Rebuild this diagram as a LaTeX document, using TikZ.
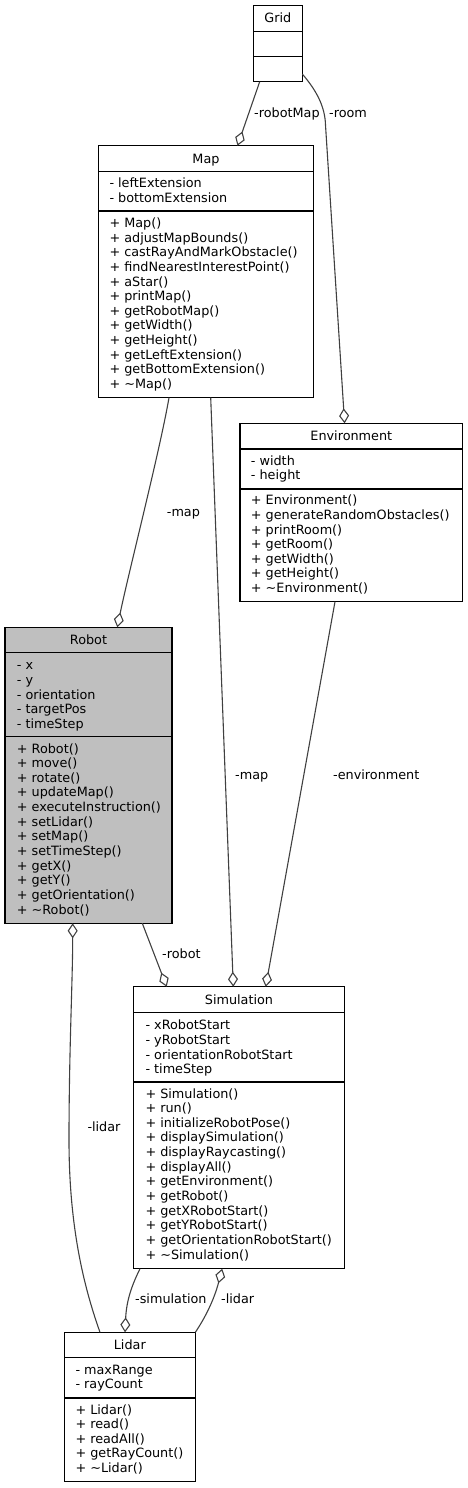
\documentclass[tikz,border=0pt]{standalone}
\usepackage{fontspec}
\setmainfont{DejaVu Sans}
\usetikzlibrary{arrows.meta}
\definecolor{edgecol}{HTML}{404040}
\definecolor{robfill}{HTML}{BFBFBF}
\newcommand\dvf{\fontsize{12.8}{14.65}\selectfont}
\newcommand\fl{\rule{0pt}{10pt}}
\newcommand\tld{\textasciitilde}
\tikzset{
  cls/.style={draw=black, line width=1.2pt, inner sep=0pt, outer sep=0pt, anchor=north west},
  sepline/.style={draw=black, line width=1.2pt},
  txt/.style={inner sep=0pt, anchor=north west, align=left, font=\dvf},
  ttl/.style={inner sep=0pt, font=\dvf, text height=10pt, text depth=1pt},
  lbl/.style={inner sep=0pt, anchor=west, font=\dvf, text height=10pt, text depth=1pt},
  agg/.style={draw=edgecol, line width=1.1pt, -{Diamond[open, length=15pt, width=10pt, line width=1.1pt]}}
}
\begin{document}
\begin{tikzpicture}[x=1pt, y=-1pt]
\useasboundingbox (0,0) rectangle (468,1488);

% ---------- Grid ----------
\node[cls, minimum width=49pt, minimum height=76pt] (grid) at (253.3,5.7) {};
\draw[sepline] (grid.west |- 0,31.3) -- (grid.east |- 0,31.3);
\draw[sepline] (grid.west |- 0,56.7) -- (grid.east |- 0,56.7);
\node[ttl] (gridt) at (277.8,18.5) {Grid};

% ---------- Map ----------
\node[cls, minimum width=214.6pt, minimum height=252pt] (map) at (98.7,145.7) {};
\draw[sepline] (map.west |- 0,171.7) -- (map.east |- 0,171.7);
\draw[sepline] (map.west |- 0,211) -- (map.east |- 0,211);
\node[ttl] (mapt) at (206,158.7) {Map};
\node[txt] (mapa) at (109.3,177.2) {\fl- leftExtension\\- bottomExtension};
\node[txt] (mapm) at (109.3,217.2) {\fl+ Map()\\+ adjustMapBounds()\\+ castRayAndMarkObstacle()\\+ findNearestInterestPoint()\\+ aStar()\\+ printMap()\\+ getRobotMap()\\+ getWidth()\\+ getHeight()\\+ getLeftExtension()\\+ getBottomExtension()\\+ \tld Map()};

% ---------- Environment ----------
\node[cls, minimum width=222.7pt, minimum height=178.4pt] (env) at (240,423.3) {};
\draw[sepline] (env.west |- 0,449) -- (env.east |- 0,449);
\draw[sepline] (env.west |- 0,489) -- (env.east |- 0,489);
\node[ttl] (envt) at (351.3,436.2) {Environment};
\node[txt] (enva) at (250.7,454.8) {\fl- width\\- height};
\node[txt] (envm) at (250.7,494.5) {\fl+ Environment()\\+ generateRandomObstacles()\\+ printRoom()\\+ getRoom()\\+ getWidth()\\+ getHeight()\\+ \tld Environment()};

% ---------- Robot ----------
\node[cls, fill=robfill, minimum width=167pt, minimum height=296pt] (rob) at (5,627.3) {};
\draw[sepline] (rob.west |- 0,652.7) -- (rob.east |- 0,652.7);
\draw[sepline] (rob.west |- 0,736.7) -- (rob.east |- 0,736.7);
\node[ttl] (robt) at (88.5,640) {Robot};
\node[txt] (roba) at (16.7,659.5) {\fl- x\\- y\\- orientation\\- targetPos\\- timeStep};
\node[txt] (robm) at (16.7,742.8) {\fl+ Robot()\\+ move()\\+ rotate()\\+ updateMap()\\+ executeInstruction()\\+ setLidar()\\+ setMap()\\+ setTimeStep()\\+ getX()\\+ getY()\\+ getOrientation()\\+ \tld Robot()};

% ---------- Simulation ----------
\node[cls, minimum width=210.6pt, minimum height=282pt] (sim) at (133.7,986.7) {};
\draw[sepline] (sim.west |- 0,1012.7) -- (sim.east |- 0,1012.7);
\draw[sepline] (sim.west |- 0,1082) -- (sim.east |- 0,1082);
\node[ttl] (simt) at (239,999.7) {Simulation};
\node[txt] (sima) at (145.3,1019.5) {\fl- xRobotStart\\- yRobotStart\\- orientationRobotStart\\- timeStep};
\node[txt] (simm) at (145.3,1087.8) {\fl+ Simulation()\\+ run()\\+ initializeRobotPose()\\+ displaySimulation()\\+ displayRaycasting()\\+ displayAll()\\+ getEnvironment()\\+ getRobot()\\+ getXRobotStart()\\+ getYRobotStart()\\+ getOrientationRobotStart()\\+ \tld Simulation()};

% ---------- Lidar ----------
\node[cls, minimum width=131pt, minimum height=149.4pt] (lid) at (64.3,1332.3) {};
\draw[sepline] (lid.west |- 0,1357.7) -- (lid.east |- 0,1357.7);
\draw[sepline] (lid.west |- 0,1398) -- (lid.east |- 0,1398);
\node[ttl] (lidt) at (129.8,1345) {Lidar};
\node[txt] (lida) at (75.3,1363.8) {\fl- maxRange\\- rayCount};
\node[txt] (lidm) at (75.3,1403.8) {\fl+ Lidar()\\+ read()\\+ readAll()\\+ getRayCount()\\+ \tld Lidar()};

% ---------- connector end points ----------
\coordinate (gridB) at (259.7,81.7);
\coordinate (mapT) at (237.5,145.7);
\coordinate (gridR) at (302.3,74);
\coordinate (roomK) at (325.5,125);
\coordinate (envT) at (344.6,423.3);
\coordinate (mapB1) at (169,397.7);
\coordinate (robT) at (117.3,627.3);
\coordinate (mapB2) at (210.7,397.7);
\coordinate (simT2) at (233.3,986.7);
\coordinate (envB) at (335,601.7);
\coordinate (simT3) at (265.7,986.7);
\coordinate (robB1) at (142.3,923.3);
\coordinate (simT1) at (166.7,986.7);
\coordinate (lidT1) at (100,1332.3);
\coordinate (lidK) at (69,1140);
\coordinate (robB2) at (72.7,923.3);
\coordinate (simB1) at (140,1268.7);
\coordinate (lidT2) at (125,1332.3);
\coordinate (lidTR) at (195.3,1332.3);
\coordinate (simB2) at (222.2,1268.7);

% ---------- connectors ----------
\draw[agg] (gridB) -- (mapT);
\draw[agg] (gridR) .. controls (316,90) and (325,106) .. (roomK) -- (envT);
\draw[agg] (mapB1) .. controls (160,450) and (128,575) .. (robT);
\draw[agg] (mapB2) -- (simT2);
\draw[agg] (envB) -- (simT3);
\draw[agg] (robB1) -- (simT1);
\draw[agg] (lidT1) .. controls (85,1290) and (69,1230) .. (lidK) .. controls (69,1050) and (72.7,980) .. (robB2);
\draw[agg] (simB1) .. controls (132,1285) and (126.5,1300) .. (lidT2);
\draw[agg] (lidTR) .. controls (205,1318) and (214,1300) .. (simB2);

% ---------- labels ----------
\node[lbl] (l1) at (254,112.7) {-robotMap};
\node[lbl] (l2) at (329,112.7) {-room};
\node[lbl] (l3) at (166.7,511.7) {-map};
\node[lbl] (l4) at (235,775) {-map};
\node[lbl] (l5) at (333,775) {-environment};
\node[lbl] (l6) at (162,954.3) {-robot};
\node[lbl] (l7) at (87.3,1126.7) {-lidar};
\node[lbl] (l8) at (135,1299) {-simulation};
\node[lbl] (l9) at (221,1299) {-lidar};
\end{tikzpicture}
\end{document}
